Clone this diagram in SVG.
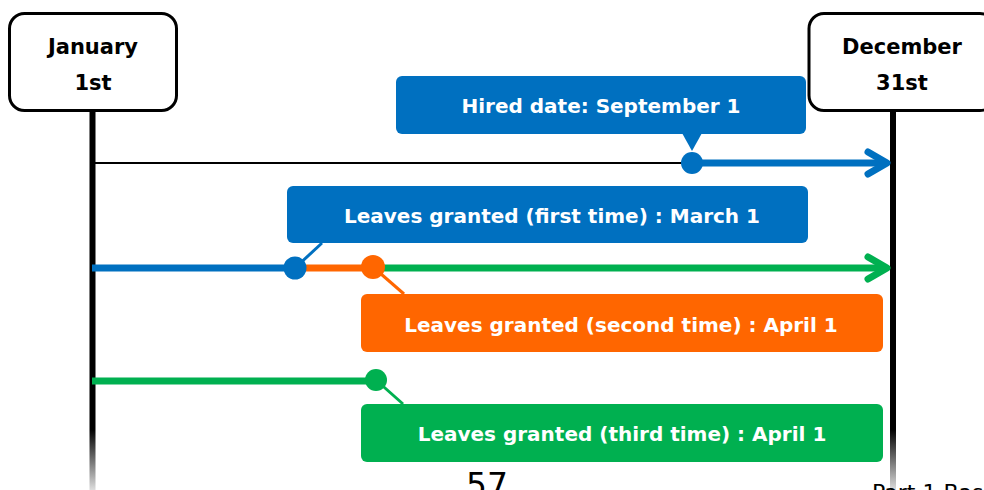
<svg xmlns="http://www.w3.org/2000/svg" width="984" height="490" viewBox="0 0 984 490">
<defs>
<linearGradient id="fade" x1="0" y1="111" x2="0" y2="490" gradientUnits="userSpaceOnUse">
<stop offset="0" stop-color="#000"/>
<stop offset="0.84" stop-color="#000"/>
<stop offset="1" stop-color="#ddd"/>
</linearGradient>
<style>
.hdr{fill:#fff;stroke:#000;stroke-width:3}
.htxt{font-family:"DejaVu Sans","Verdana",sans-serif;font-weight:bold;font-size:21px;fill:#000;text-anchor:middle}
.ctxt{font-family:"DejaVu Sans","Verdana",sans-serif;font-weight:bold;font-size:20px;fill:#fff;text-anchor:middle}
.vline{stroke:url(#fade);stroke-width:6;fill:none}
.thick{stroke-width:7;fill:none}
.arrow{stroke-width:7;fill:none;stroke-linecap:round;stroke-linejoin:round}
.blue{fill:#0070C0}
.orange{fill:#FF6600}
.green{fill:#00B050}
.sb{stroke:#0070C0}
.so{stroke:#FF6600}
.sg{stroke:#00B050}
</style>
</defs>
<rect width="984" height="490" fill="#fff"/>
<g id="timeline-lines">
<line class="vline" x1="92.5" y1="111" x2="92.5" y2="490"/>
<line class="vline" x1="893" y1="111" x2="893" y2="490"/>
</g>
<g id="jan">
<rect class="hdr" x="9.5" y="13.5" width="167" height="97" rx="15"/>
<text class="htxt" x="93" y="54">January</text>
<text class="htxt" x="93" y="90">1st</text>
</g>
<g id="dec">
<rect class="hdr" x="809" y="13.5" width="186" height="97" rx="15"/>
<text class="htxt" x="902" y="54">December</text>
<text class="htxt" x="902" y="90">31st</text>
</g>
<g id="connectors">
<line x1="92" y1="163" x2="692" y2="163" stroke="#000" stroke-width="2"/>
<line class="thick sb" x1="692" y1="163" x2="886" y2="163"/>
<polyline class="arrow sb" points="868,152 887,163 868,174"/>
<line class="thick sb" x1="92" y1="268" x2="295" y2="268"/>
<line class="thick so" x1="295" y1="268" x2="373" y2="268"/>
<line class="thick sg" x1="373" y1="268" x2="886" y2="268"/>
<polyline class="arrow sg" points="868,257 887,268 868,279"/>
<line class="thick sg" x1="92" y1="381" x2="376" y2="381"/>
<line class="sb" x1="295" y1="268" x2="322" y2="243" stroke-width="3"/>
<line class="so" x1="373" y1="267" x2="404" y2="294" stroke-width="3"/>
<line class="sg" x1="376" y1="380" x2="403" y2="404" stroke-width="3"/>
</g>
<g id="hired">
<rect class="blue" x="396" y="76" width="410" height="58" rx="6"/>
<polygon class="blue" points="682,133 702,133 692,151"/>
<circle class="blue" cx="692" cy="163" r="11"/>
<text class="ctxt" x="601" y="113">Hired date: September 1</text>
</g>
<g id="first">
<rect class="blue" x="287" y="186" width="521" height="57" rx="6"/>
<circle class="blue" cx="295" cy="268" r="11.5"/>
<text class="ctxt" x="552" y="223">Leaves granted (first time) : March 1</text>
</g>
<g id="second">
<rect class="orange" x="361" y="294" width="522" height="58" rx="6"/>
<circle class="orange" cx="373" cy="267" r="12"/>
<text class="ctxt" x="621" y="332">Leaves granted (second time) : April 1</text>
</g>
<g id="third">
<rect class="green" x="361" y="404" width="522" height="58" rx="6"/>
<circle class="green" cx="376" cy="380" r="11"/>
<text class="ctxt" x="622" y="441">Leaves granted (third time) : April 1</text>
</g>
<g id="footer">
<text x="487" y="497" font-family="DejaVu Sans, sans-serif" font-size="33" text-anchor="middle" fill="#000">57</text>
<text x="872" y="500" font-family="DejaVu Sans, sans-serif" font-size="22" fill="#000">Part 1 Bas</text>
</g>
</svg>
